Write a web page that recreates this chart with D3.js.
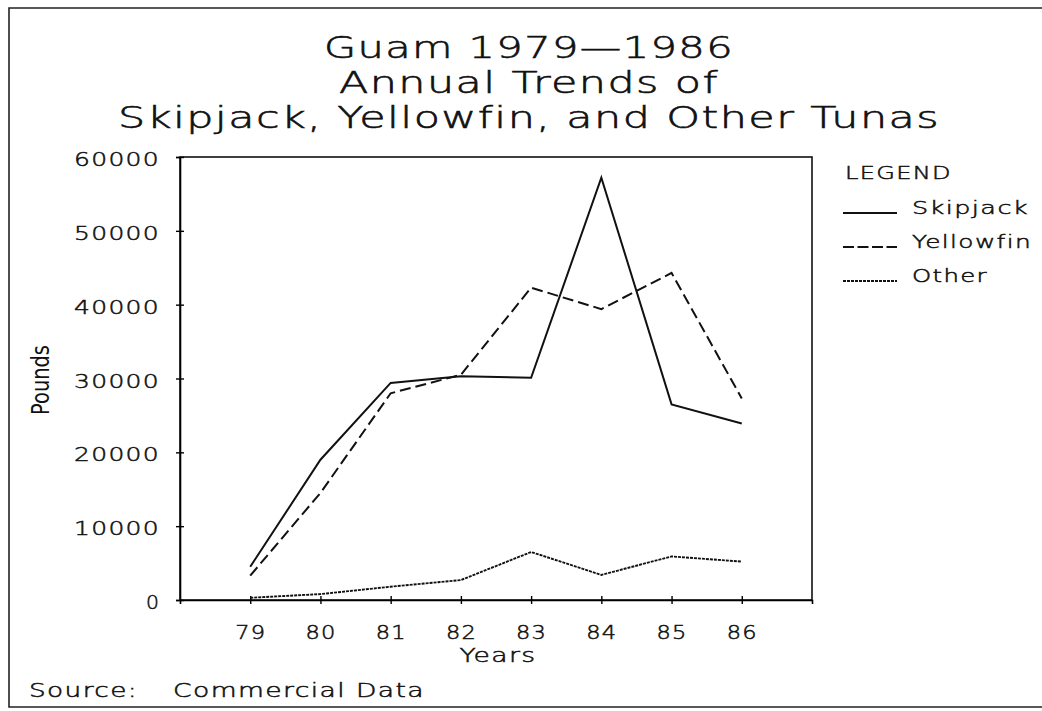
<!DOCTYPE html>
<html>
<head>
<meta charset="utf-8">
<script src="https://cdn.jsdelivr.net/npm/d3@7"></script>
<style>
  body { margin: 0; background: #fff; }
  text { font-family: "DejaVu Sans", sans-serif; fill: #111; letter-spacing: 1px;
         font-weight: 200; stroke: #111; stroke-width: 0.5px; }
  .title { stroke-width: 0.6px; }
  .ylab { font-weight: 400; stroke: none; }
</style>
</head>
<body>
<div id="chart"></div>
<script>
// Guam 1979-1986 tuna landings

const years = [79, 80, 81, 82, 83, 84, 85, 86];
const skipjack = [4500, 19000, 29400, 30300, 30100, 57200, 26500, 23900];
const yellowfin = [3300, 14500, 28000, 30500, 42300, 39400, 44300, 27300];
const other = [300, 800, 1800, 2700, 6500, 3400, 5900, 5200];
const yTicks = [0, 10000, 20000, 30000, 40000, 50000, 60000];
const titleLines = ["Guam 1979\u20141986", "Annual Trends of", "Skipjack, Yellowfin, and Other Tunas"];
const seriesNames = ["Skipjack", "Yellowfin", "Other"];

const width = 1042,
    height = 711,
    margin = ({ top: 157, right: 230, bottom: 111, left: 180 });

const svg = d3.select("#chart")
  .append("svg")
  .attr("width", width)
  .attr("height", height);

// fit text to a measured width (glyphs get stretched, like the plotter font)
function fit(sel, len, adj) {
  sel.attr("textLength", len).attr("lengthAdjust", adj || "spacingAndGlyphs");
}

// outer frame
svg.append("path")
  .attr("d", `M1050,8 H9 V707 H1050`)
  .attr("fill", "none")
  .attr("stroke", "#222")
  .attr("stroke-width", 1.6);

// title
const titleW = [410, 380, 822];
svg.selectAll(".title")
  .data(titleLines)
  .join("text")
  .attr("class", "title")
  .attr("x", 529)
  .attr("y", (d, i) => 58 + i * 35)
  .attr("text-anchor", "middle")
  .attr("font-size", 30)
  .text(d => d)
  .each(function (d, i) { fit(d3.select(this), titleW[i]); });

const x = d3.scaleLinear()
  .domain([78, 87])
  .range([margin.left, width - margin.right]);

const y = d3.scaleLinear()
  .domain([0, 60000])
  .range([height - margin.bottom, margin.top]);

// plot box
svg.append("rect")
  .attr("x", x(78))
  .attr("y", y(60000))
  .attr("width", x(87) - x(78))
  .attr("height", y(0) - y(60000))
  .attr("fill", "none")
  .attr("stroke", "#111")
  .attr("stroke-width", 1.6);

// y axis
const yAxis = svg.append("g")
  .attr("transform", `translate(${margin.left},0)`)
  .call(d3.axisLeft(y).tickValues(yTicks).tickSize(4).tickPadding(16).tickFormat(d3.format("d")));
yAxis.select(".domain").attr("stroke-width", 1.6);
yAxis.selectAll(".tick line").attr("stroke-width", 1.4);
yAxis.selectAll("text")
  .attr("font-size", 19)
  .attr("font-family", "DejaVu Sans")
  .attr("fill", "#111")
  .attr("dy", "0.45em")
  .each(function (d) {
    const n = String(d).length;
    fit(d3.select(this), n * 18 - 4);
  });
svg.append("g")
  .attr("transform", `translate(${margin.left},0)`)
  .call(d3.axisLeft(y).tickValues(yTicks).tickSize(-4).tickFormat(""))
  .call(g => g.select(".domain").remove())
  .selectAll(".tick line").attr("stroke-width", 1.4);

// x axis
const xAxis = svg.append("g")
  .attr("transform", `translate(0,${height - margin.bottom})`)
  .call(d3.axisBottom(x).tickValues(years).tickSize(4).tickPadding(22));
xAxis.select(".domain").attr("stroke-width", 1.6);
xAxis.selectAll(".tick line").attr("stroke-width", 1.4);
xAxis.selectAll("text")
  .attr("font-size", 19)
  .attr("font-family", "DejaVu Sans")
  .attr("fill", "#111")
  .each(function () { fit(d3.select(this), 31); });
svg.append("g")
  .attr("transform", `translate(0,${height - margin.bottom})`)
  .call(d3.axisBottom(x).tickValues(years).tickSize(-4).tickFormat(""))
  .call(g => g.select(".domain").remove())
  .selectAll(".tick line").attr("stroke-width", 1.4);

// axis titles
svg.append("text")
  .attr("x", 498)
  .attr("y", 662)
  .attr("text-anchor", "middle")
  .attr("font-size", 19)
  .text("Years")
  .call(fit, 77);

svg.append("text")
  .attr("class", "ylab")
  .attr("transform", "translate(49,380) rotate(-90)")
  .attr("text-anchor", "middle")
  .attr("font-family", "Liberation Sans")
  .attr("font-size", 25)
  .style("letter-spacing", "0px")
  .text("Pounds")
  .call(fit, 70);

// source
svg.append("text")
  .attr("x", 29)
  .attr("y", 697)
  .attr("font-size", 19)
  .text("Source:")
  .call(fit, 109);
svg.append("text")
  .attr("x", 173)
  .attr("y", 697)
  .attr("font-size", 19)
  .text("Commercial Data")
  .call(fit, 252);

// lines
const series = [
  { name: seriesNames[0], values: skipjack, dash: null, w: 2 },
  { name: seriesNames[1], values: yellowfin, dash: "11,5", w: 2 },
  { name: seriesNames[2], values: other, dash: "3,1", w: 1.9 }
];

const line = d3.line()
  .x((d, i) => x(years[i]))
  .y(d => y(d));

svg.append("g")
  .selectAll("path")
  .data(series)
  .join("path")
  .attr("d", d => line(d.values))
  .attr("fill", "none")
  .attr("stroke", "#111")
  .attr("stroke-width", d => d.w)
  .attr("stroke-dasharray", d => d.dash);

// legend
const legend = svg.append("g");
legend.append("text")
  .attr("x", 845)
  .attr("y", 179)
  .attr("font-size", 18)
  .text("LEGEND")
  .call(fit, 107);

const legW = [117, 120, 76];
const item = legend.selectAll(".item")
  .data(series)
  .join("g")
  .attr("class", "item")
  .attr("transform", (d, i) => `translate(0,${213 + i * 34})`);
item.append("line")
  .attr("x1", 843)
  .attr("x2", 897)
  .attr("stroke", "#111")
  .attr("stroke-width", d => d.w)
  .attr("stroke-dasharray", (d, i) => i === 1 ? "11,3.5" : d.dash);
item.append("text")
  .attr("x", 912)
  .attr("y", 1)
  .attr("font-size", 18)
  .text(d => d.name)
  .each(function (d, i) { fit(d3.select(this), legW[i]); });
</script>
</body>
</html>
